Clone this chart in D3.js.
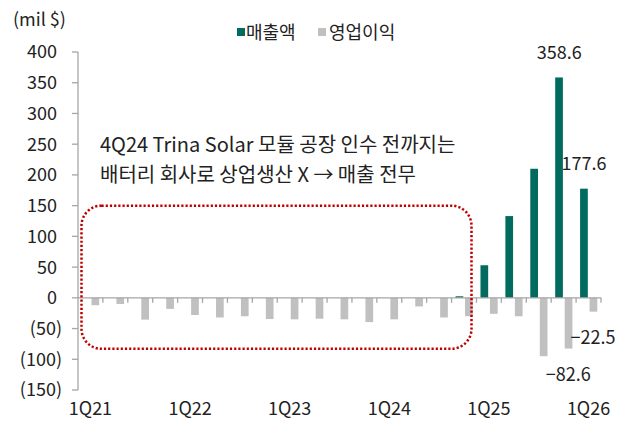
<!DOCTYPE html>
<html>
<head>
<meta charset="utf-8">
<script src="https://cdn.jsdelivr.net/npm/d3@7"></script>
<style>
  body { margin: 0; background: #fff; }
  text { font-family: "Noto Sans CJK KR", "Noto Sans", sans-serif; fill: #222; }
</style>
</head>
<body>
<svg id="chart" width="630" height="421"></svg>
<script>
// quarters 1Q21 .. 1Q26
var quarters = ['1Q21','2Q21','3Q21','4Q21','1Q22','2Q22','3Q22','4Q22','1Q23','2Q23','3Q23','4Q23',
  '1Q24','2Q24','3Q24','4Q24','1Q25','2Q25','3Q25','4Q25','1Q26'];
var revenue = [0,0,0,0,0,0,0,0,0,0,0,0,0,0,0,2.5,53,133,210,358.6,177.6];
var opIncome = [-12,-10,-35.5,-18,-28,-32,-30,-34.5,-35,-34,-35,-39.5,-35,-14,-32,-30,-26,-30,-95,-82.6,-22.5];
var yTicks = [400,350,300,250,200,150,100,50,0,-50,-100,-150];
var xLabels = ['1Q21','1Q22','1Q23','1Q24','1Q25','1Q26'];

var teal = '#006b5e', grey = '#c0c0c0', axisCol = '#a6a6a6';

var svg = d3.select('svg#chart');

var x = d3.scaleBand().domain(quarters).range([78, 601]);
var y = d3.scaleLinear().domain([-150, 400]).range([390, 52]);

var barW = 7.7;
var numSize = 18;
var fmtY = d => d < 0 ? '(' + (-d) + ')' : '' + d;

// y axis
svg.append('line')
  .attr('x1', 78).attr('x2', 78)
  .attr('y1', y(400)).attr('y2', y(-150))
  .attr('stroke', axisCol).attr('stroke-width', 1.3);

var yt = svg.selectAll('g.ytick').data(yTicks).enter().append('g')
  .attr('transform', d => 'translate(0,' + y(d) + ')');
yt.append('line').attr('x1', 72).attr('x2', 78).attr('stroke', axisCol).attr('stroke-width', 1.3);
yt.append('text')
  .attr('x', d => d < 0 ? 62 : 57).attr('dy', '0.36em')
  .attr('text-anchor', 'end')
  .attr('font-size', numSize)
  .text(fmtY);

// bars
svg.selectAll('rect.rev').data(quarters).enter().append('rect')
  .attr('class', 'rev')
  .attr('x', d => x(d) + 4)
  .attr('width', barW)
  .attr('y', (d, i) => y(Math.max(0, revenue[i])))
  .attr('height', (d, i) => Math.abs(y(revenue[i]) - y(0)))
  .attr('fill', teal);

svg.selectAll('rect.op').data(quarters).enter().append('rect')
  .attr('class', 'op')
  .attr('x', d => x(d) + 13.5)
  .attr('width', barW)
  .attr('y', (d, i) => y(Math.max(0, opIncome[i])))
  .attr('height', (d, i) => Math.abs(y(opIncome[i]) - y(0)))
  .attr('fill', grey);

// x axis (zero line)
svg.append('line')
  .attr('x1', 78).attr('x2', 601)
  .attr('y1', y(0)).attr('y2', y(0))
  .attr('stroke', axisCol).attr('stroke-width', 1.3);

svg.selectAll('line.xtick').data(quarters).enter().append('line')
  .attr('class', 'xtick')
  .attr('x1', d => x(d) + x.bandwidth())
  .attr('x2', d => x(d) + x.bandwidth())
  .attr('y1', y(0)).attr('y2', y(0) + 5)
  .attr('stroke', axisCol).attr('stroke-width', 1.3);

svg.selectAll('text.xlab').data(xLabels).enter().append('text')
  .attr('class', 'xlab')
  .attr('x', d => x(d) + x.bandwidth() / 2)
  .attr('y', 415)
  .attr('text-anchor', 'middle')
  .attr('font-size', numSize)
  .text(d => d);

// value labels
var last = quarters.length - 1;
svg.append('text').attr('x', x(quarters[last - 1]) + 8).attr('y', y(revenue[last - 1]) - 18)
  .attr('text-anchor', 'middle').attr('font-size', numSize).text('358.6');
svg.append('text').attr('x', x(quarters[last]) + 8).attr('y', y(revenue[last]) - 19)
  .attr('text-anchor', 'middle').attr('font-size', numSize).text('177.6');
svg.append('text').attr('x', x(quarters[last]) + 17).attr('y', y(opIncome[last]) + 32)
  .attr('text-anchor', 'middle').attr('font-size', numSize).text('\u221222.5');
svg.append('text').attr('x', x(quarters[last - 1]) + 17).attr('y', y(opIncome[last - 1]) + 32)
  .attr('text-anchor', 'middle').attr('font-size', numSize).text('\u221282.6');

// unit
svg.append('text').attr('x', 13).attr('y', 26).attr('font-size', numSize).text('(mil $)');

// legend
svg.append('rect').attr('x', 237).attr('y', 28).attr('width', 8).attr('height', 8).attr('fill', teal);
svg.append('text').attr('x', 246).attr('y', 39).attr('font-size', 18).text('매출액');
svg.append('rect').attr('x', 318).attr('y', 28).attr('width', 8).attr('height', 8).attr('fill', grey);
svg.append('text').attr('x', 329).attr('y', 39).attr('font-size', 18).text('영업이익');

// annotation
svg.append('text').attr('x', 100).attr('y', 152).attr('font-size', 20)
  .text('4Q24 Trina Solar 모듈 공장 인수 전까지는');
svg.append('text').attr('x', 100).attr('y', 182).attr('font-size', 20)
  .text('배터리 회사로 상업생산 X → 매출 전무');

svg.append('rect')
  .attr('x', 81.5).attr('y', y(150))
  .attr('width', 390).attr('height', y(-83) - y(150))
  .attr('rx', 20).attr('ry', 20)
  .attr('fill', 'none')
  .attr('stroke', '#c00000')
  .attr('stroke-width', 2.5)
  .attr('stroke-dasharray', '2.2,2');
</script>
</body>
</html>
